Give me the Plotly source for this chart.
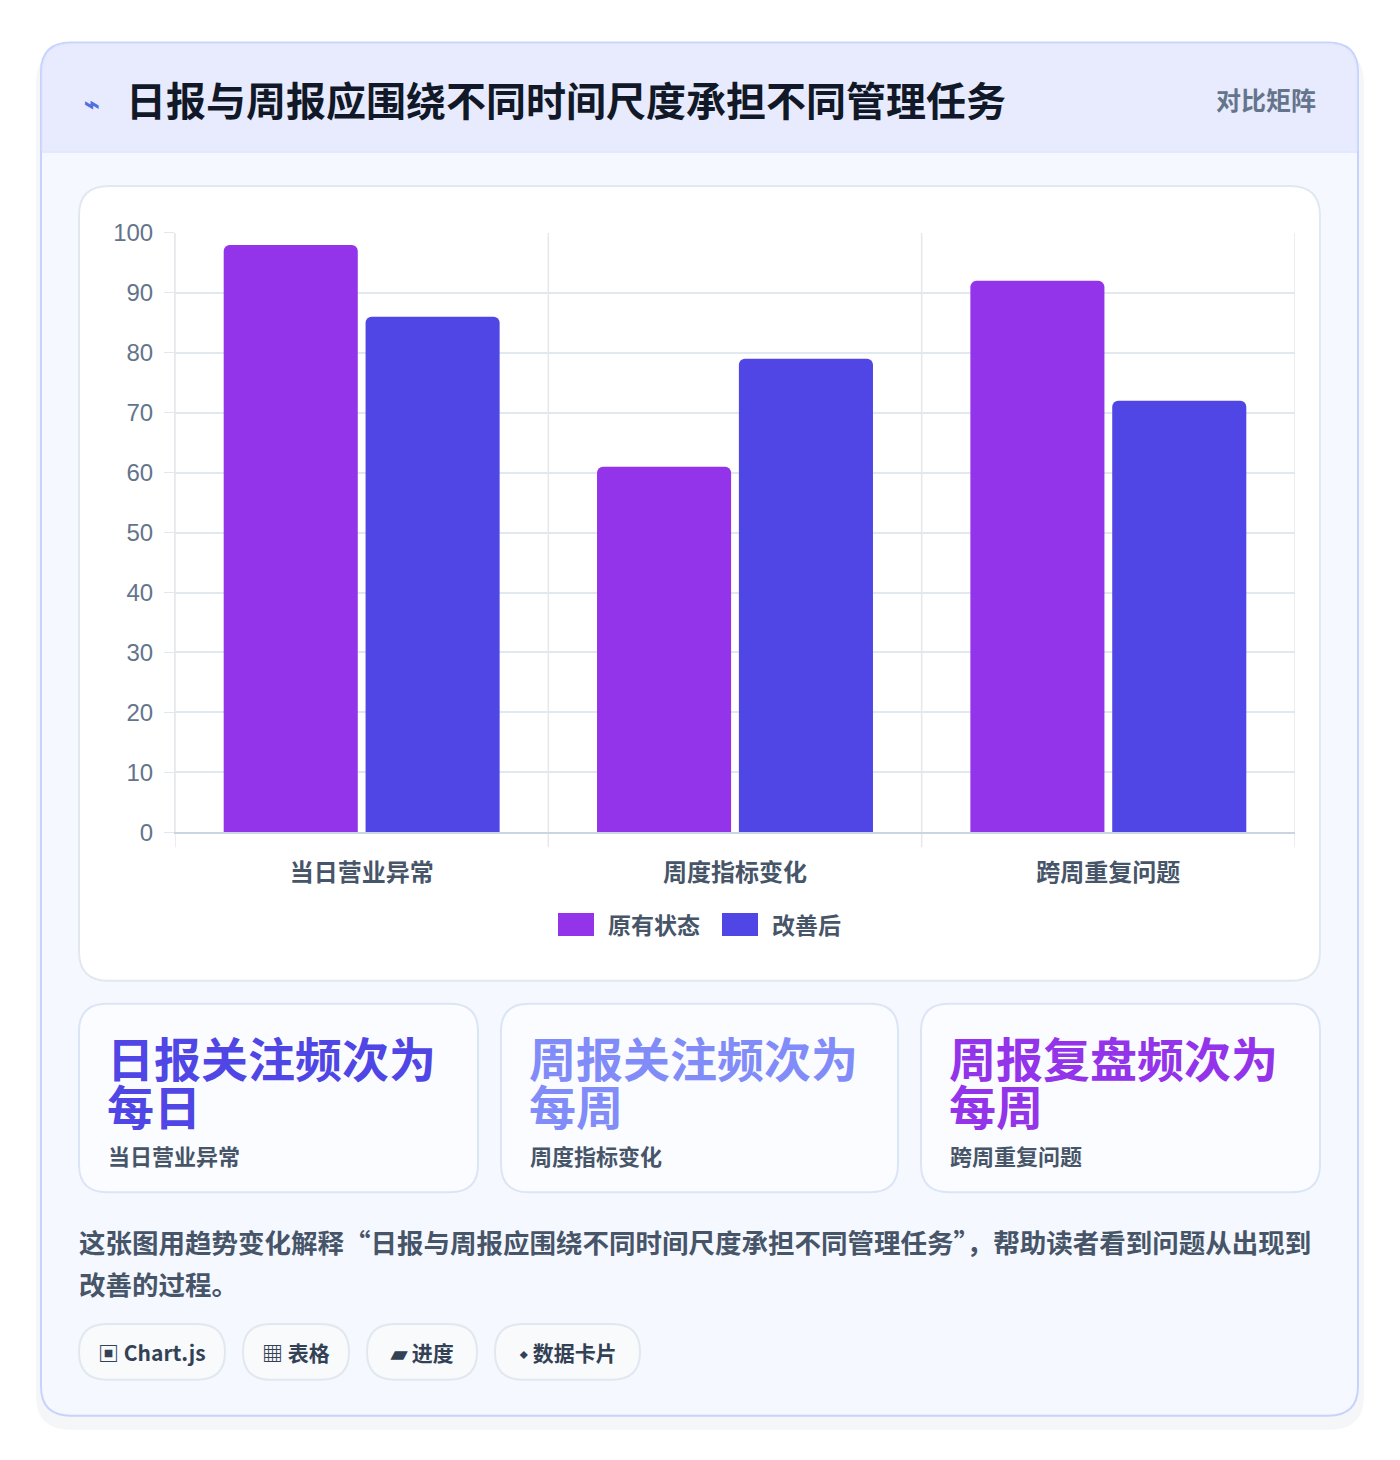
import plotly.graph_objects as go

OFF = 8
W, H = 1400 - 2 * OFF, 1460 - 2 * OFF
categories = ["当日营业异常", "周度指标变化", "跨周重复问题"]
series_names = ["原有状态", "改善后"]
before = [98, 61, 92]
after = [86, 79, 72]
colors = ["#9333ea", "#4f46e5"]
y_ticks = [0, 10, 20, 30, 40, 50, 60, 70, 80, 90, 100]
title = "日报与周报应围绕不同时间尺度承担不同管理任务"
badge = "对比矩阵"
card_titles = [["日报关注频次为", "每日"], ["周报关注频次为", "每周"], ["周报复盘频次为", "每周"]]
card_subs = ["当日营业异常", "周度指标变化", "跨周重复问题"]
card_colors = ["#4f46e5", "#818cf8", "#9333ea"]
para = ["这张图用趋势变化解释“日报与周报应围绕不同时间尺度承担不同管理任务”，帮助读者看到问题从出现到",
        "改善的过程。"]
chips = ["▣ Chart.js", "▦ 表格", "▰ 进度", "⬩ 数据卡片"]

FONT = "Noto Sans CJK SC"
SY = 0.984
def fy(y):  # compensate observed vertical placement
    return 8 + (y - 20.5) / SY
px = lambda x: (x - OFF) / W
py = lambda y: 1 - (fy(y) - OFF) / H

def rrect(x0, y0, x1, y1, r):
    X0, X1 = px(x0), px(x1)
    rx, ry = r / W, r / H
    Y0, Y1 = py(y0), py(y1)
    return (f"M{X0+rx},{Y0} L{X1-rx},{Y0} Q{X1},{Y0} {X1},{Y0-ry} L{X1},{Y1+ry} Q{X1},{Y1} {X1-rx},{Y1} "
            f"L{X0+rx},{Y1} Q{X0},{Y1} {X0},{Y1+ry} L{X0},{Y0-ry} Q{X0},{Y0} {X0+rx},{Y0} Z")

shapes, ann = [], []
def box(x0, y0, x1, y1, r, fill, line, lw=2):
    shapes.append(dict(type="path", path=rrect(x0, y0, x1, y1, r), xref="paper", yref="paper",
                       fillcolor=fill, line=dict(color=line, width=lw), layer="below"))
def rect(x0, y0, x1, y1, fill):
    shapes.append(dict(type="rect", x0=px(x0), x1=px(x1), y0=py(y0), y1=py(y1), xref="paper", yref="paper",
                       fillcolor=fill, line=dict(width=0), layer="below"))
def text(x, y, s, size, color, anchor="left", bold=True):
    ann.append(dict(x=px(x), y=py(y), xref="paper", yref="paper", text=f"<b>{s}</b>" if bold else s,
                    showarrow=False, xanchor=anchor, yanchor="middle",
                    font=dict(family=FONT, size=size, color=color)))

box(36, 48, 1364, 1432, 34, "rgba(148,163,184,0.10)", "rgba(0,0,0,0)", 0)
box(41, 41, 1358, 1418, 30, "#f6f8ff", "#c7d2fe")
shapes.append(dict(type="path", xref="paper", yref="paper", layer="below",
                   path=f"M{px(42)},{py(151)} L{px(42)},{py(71)} Q{px(42)},{py(42)} {px(72)},{py(42)} "
                        f"L{px(1327)},{py(42)} Q{px(1357)},{py(42)} {px(1357)},{py(71)} L{px(1357)},{py(151)} Z",
                   fillcolor="#e7ebfd", line=dict(color="#dbe3fb", width=1)))
text(82, 100, "⌁", 26, "#4f6fe5")
text(124, 98, title, 40, "#111827")
text(1318, 98, badge, 25, "#64748b", "right")
box(79, 185, 1320, 982, 30, "#ffffff", "#e2e8f0")
xs = [(79, 478), (501, 898), (921, 1320)]
for (a, b), t, s, c in zip(xs, card_titles, card_subs, card_colors):
    box(a, 1005, b, 1194, 28, "#fbfcff", "#dbe5f5")
    text(a + 26, 1058, t[0], 47, c)
    text(a + 26, 1106, t[1], 47, c)
    text(a + 27, 1157, s, 22, "#475569")
text(77, 1243, para[0], 26.5, "#475569")
text(77, 1285, para[1], 26.5, "#475569")
cx = [(79, 225), (243, 349), (367, 477), (495, 640)]
for (a, b), s in zip(cx, chips):
    box(a, 1326, b, 1382, 28, "#f8fafc", "#e2e8f0")
    text((a + b) / 2, 1354, s, 21, "#334155", "center")

for (x0, x1, tx), name, col in zip([(558, 594, 606), (722, 758, 770)], series_names, colors):
    rect(x0, 914, x1, 937, col)
    text(tx, 925, name, 23, "#475569")

for xv in [-0.5, 0.5, 1.5, 2.5]:
    shapes.append(dict(type="line", xref="x", yref="paper", x0=xv, x1=xv, y0=py(848), y1=py(232),
                       line=dict(color="#e5e7eb", width=1.5), layer="below"))

fig = go.Figure()
for name, vals, col in zip(series_names, [before, after], colors):
    fig.add_bar(x=list(range(3)), y=vals, name=name, marker=dict(color=col, line=dict(width=0)))

fig.update_layout(
    width=W, height=H, margin=dict(l=0, r=0, t=0, b=0),
    paper_bgcolor="#ffffff", plot_bgcolor="rgba(0,0,0,0)",
    barmode="group", bargap=0.24, bargroupgap=0.055, barcornerradius=6,
    shapes=shapes, annotations=ann, showlegend=False,
    xaxis=dict(domain=[px(175), px(1295)], range=[-0.5, 2.5], showgrid=False,
               tickfont=dict(family=FONT, size=24, color="#475569"), ticks="",
               tickvals=[0, 1, 2], ticktext=[f"<b>{c}</b>" for c in categories], ticklabelstandoff=18,
               showline=True, linecolor="#cbd5e1", linewidth=2),
    yaxis=dict(domain=[py(833), py(232)], range=[0, 100], tickvals=y_ticks,
               gridcolor="#e2e8f0", gridwidth=1.5, zeroline=False,
               tickfont=dict(family="Liberation Sans", size=24, color="#64748b"),
               ticks="outside", ticklen=10, tickcolor="#e2e8f0", ticklabelstandoff=6,
               showline=True, linecolor="#e5e7eb"),
)
fig.write_html("out.html")
